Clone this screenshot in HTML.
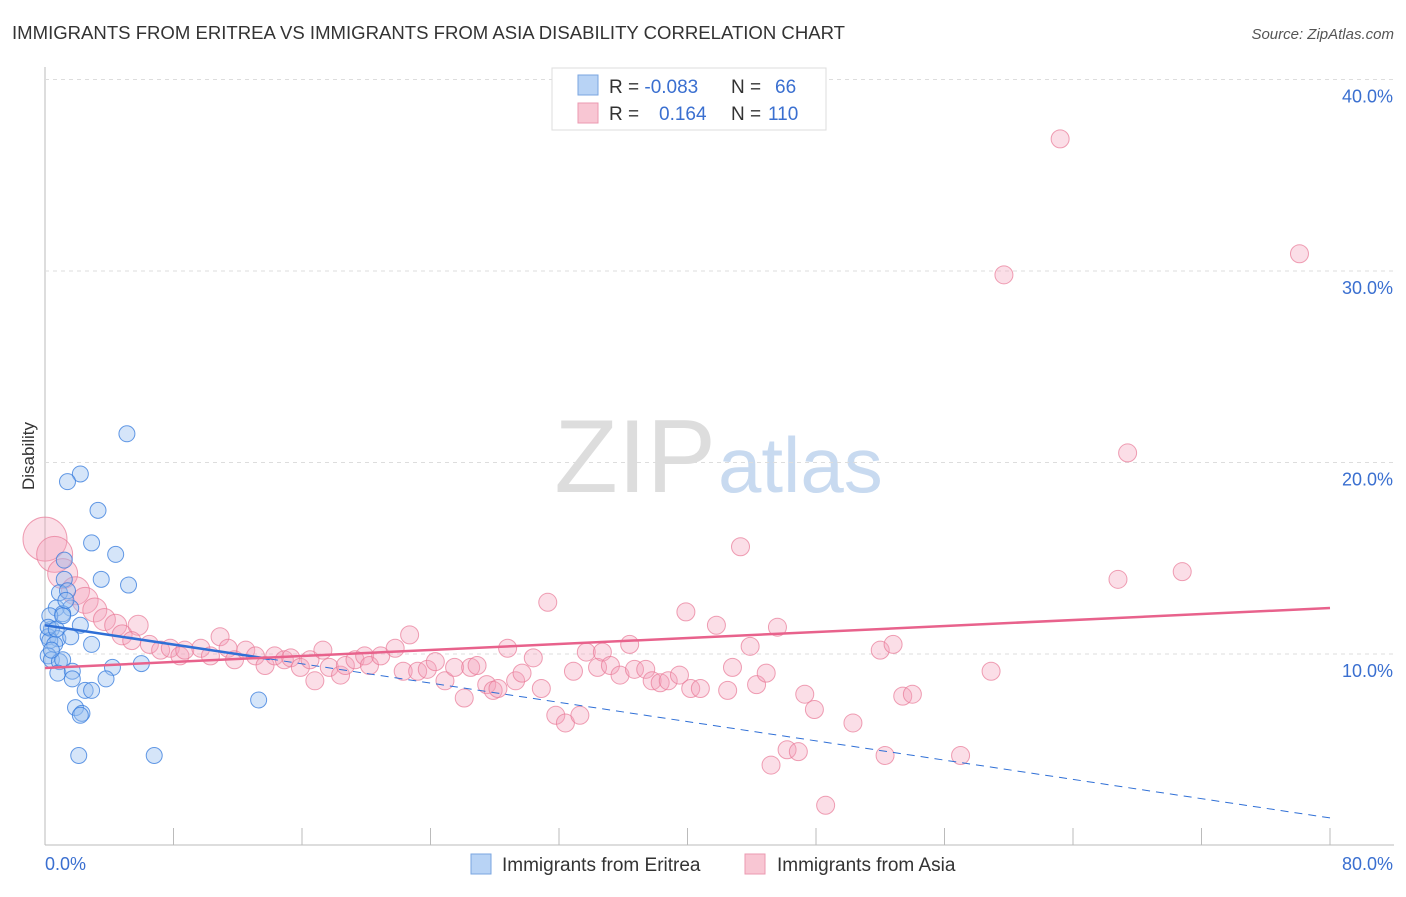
<!DOCTYPE html>
<html><head><meta charset="utf-8"><style>
body{margin:0;background:#fff;font-family:"Liberation Sans",sans-serif;}
svg text{font-family:"Liberation Sans",sans-serif;}
</style></head><body>
<svg id="c" width="1406" height="892">
<text x="12" y="39" font-size="18" textLength="833" lengthAdjust="spacingAndGlyphs" fill="#333">IMMIGRANTS FROM ERITREA VS IMMIGRANTS FROM ASIA DISABILITY CORRELATION CHART</text>
<text x="1394" y="39" font-size="15" fill="#555" font-style="italic" text-anchor="end">Source: ZipAtlas.com</text>
<text x="34" y="456" font-size="17" fill="#333" transform="rotate(-90 34 456)" text-anchor="middle">Disability</text>
<text x="716" y="492" font-size="104" fill="#ddd" text-anchor="end" font-family="Liberation Serif">ZIP</text>
<text x="718" y="492" font-size="78" fill="#c8daf0">atlas</text>
<g id="grid"></g><g id="pts"></g><g id="lines"></g>
<g>
<rect x="552" y="68" width="274" height="62" fill="#fff" stroke="#ddd"/>
<rect x="578" y="75" width="20" height="20" fill="#b8d3f5" stroke="#7aa6e0"/>
<rect x="578" y="103" width="20" height="20" fill="#f8c6d3" stroke="#eb9ab0"/>
<text x="609" y="93" font-size="19" fill="#333">R = <tspan fill="#3a6fd0">-0.083</tspan><tspan x="731">N = </tspan><tspan x="775" fill="#3a6fd0">66</tspan></text>
<text x="609" y="120" font-size="19" fill="#333">R = <tspan x="659" fill="#3a6fd0">0.164</tspan><tspan x="731">N = </tspan><tspan x="768" fill="#3a6fd0">110</tspan></text>
</g>
<g>
<rect x="471" y="854" width="20" height="20" fill="#b8d3f5" stroke="#7aa6e0"/>
<text x="502" y="871" font-size="19" fill="#333">Immigrants from Eritrea</text>
<rect x="745" y="854" width="20" height="20" fill="#f8c6d3" stroke="#eb9ab0"/>
<text x="777" y="871" font-size="19" fill="#333">Immigrants from Asia</text>
</g>
</svg>
<script>
const yTicks=[10,20,30,40];
const xTickLabels=["0.0%","80.0%"];
const blueX=[5.1,2.2,1.4,3.3,2.9,4.4,1.2,3.5,5.2,1.2,0.9,1.4,0.7,1.6,1.1,2.2,0.4,0.2,0.8,1.6,0.3,0.6,2.9,0.2,0.4,0.9,1.1,0.8,1.7,1.7,4.2,6.0,3.8,2.5,2.9,1.9,2.3,2.2,2.1,6.8,13.3,0.3,0.2,0.7,1.1,1.3,0.4];
const blueY=[21.5,19.4,19.0,17.5,15.8,15.2,14.9,13.9,13.6,13.9,13.2,13.3,12.4,12.4,12.1,11.5,11.3,10.9,10.8,10.9,10.7,10.5,10.5,9.9,9.7,9.6,9.7,9.0,9.1,8.7,9.3,9.5,8.7,8.1,8.1,7.2,6.9,6.8,4.7,4.7,7.6,12.0,11.4,11.3,12.0,12.8,10.2];
const pinkX=[0,0.6,1.1,1.9,2.5,3.1,3.7,4.4,4.8,5.8,5.4,6.5,7.2,7.8,8.4,8.7,9.7,10.3,10.9,11.4,11.8,12.5,13.1,13.7,14.3,14.9,15.3,15.9,16.5,16.8,17.3,17.7,18.4,18.7,19.3,19.9,20.2,20.9,21.8,22.3,22.7,23.2,23.8,24.3,24.9,25.5,26.1,26.5,26.9,27.5,27.9,28.2,28.8,29.3,29.7,30.4,30.9,31.3,31.8,32.4,32.9,33.3,33.7,34.4,34.7,35.2,35.8,36.4,36.7,37.4,37.8,38.3,38.8,39.5,39.9,40.2,40.8,41.8,42.5,42.8,43.3,43.9,44.3,44.9,45.2,45.6,46.2,46.9,47.3,47.9,48.6,50.3,52.0,52.3,52.8,53.4,54.0,57.0,58.9,59.7,63.2,66.8,67.4,70.8,78.1];
const pinkY=[16.0,15.2,14.2,13.3,12.8,12.3,11.8,11.5,11.0,11.5,10.7,10.5,10.2,10.3,9.9,10.2,10.3,9.9,10.9,10.3,9.7,10.2,9.9,9.4,9.9,9.7,9.8,9.3,9.7,8.6,10.2,9.3,8.9,9.4,9.7,9.9,9.4,9.9,10.3,9.1,11.0,9.1,9.2,9.6,8.6,9.3,7.7,9.3,9.4,8.4,8.1,8.2,10.3,8.6,9.0,9.8,8.2,12.7,6.8,6.4,9.1,6.8,10.1,9.3,10.1,9.4,8.9,10.5,9.2,9.2,8.6,8.5,8.6,8.9,12.2,8.2,8.2,11.5,8.1,9.3,15.6,10.4,8.4,9.0,4.2,11.4,5.0,4.9,7.9,7.1,2.1,6.4,10.2,4.7,10.5,7.8,7.9,4.7,9.1,29.8,36.9,13.9,20.5,14.3,30.9];
const pinkR=[22,18,15,14,13,12,11,11,10,10];
const blueTrend=[11.5,1.44], pinkTrend=[9.27,12.40], xMax=80;
const X=v=>45+v*(1285/80), Y=v=>654-(v-10)*19.15;
const NS="http://www.w3.org/2000/svg";
function mk(t,a,p){const e=document.createElementNS(NS,t);for(const k in a)e.setAttribute(k,a[k]);p.appendChild(e);return e;}
const grid=document.getElementById('grid'),pts=document.getElementById('pts'),lines=document.getElementById('lines');
const ax=mk('line',{x1:45,y1:67,x2:45,y2:845,stroke:'#bbb'},grid);


const bx=mk('line',{x1:45,y1:845,x2:1394,y2:845,stroke:'#bbb'},grid);


yTicks.forEach(v=>{
 const g=mk('line',{x1:45,y1:Y(v),x2:1394,y2:Y(v),stroke:'#ddd','stroke-dasharray':'4,4'},grid);
 
 
 const t=mk('text',{x:1393,y:Y(v)+23,'font-size':18,fill:'#3a6fd0','text-anchor':'end'},grid);t.textContent=v.toFixed(1)+'%';
 
 
});
for(let i=0;i<=10;i++){const tk=mk('line',{x1:X(i*8),y1:828,x2:X(i*8),y2:845,stroke:'#bbb'},grid);
 
 }
const t0=mk('text',{x:45,y:870,'font-size':18,fill:'#3a6fd0'},grid);t0.textContent=xTickLabels[0];


const t1=mk('text',{x:1393,y:870,'font-size':18,fill:'#3a6fd0','text-anchor':'end'},grid);t1.textContent=xTickLabels[1];


pinkX.forEach((v,i)=>{const c=mk('circle',{cx:X(v),cy:Y(pinkY[i]),r:pinkR[i]||9,fill:'rgba(244,160,185,0.35)',stroke:'rgba(232,120,150,0.7)','stroke-width':1},pts);
 
 });
blueX.forEach((v,i)=>{const c=mk('circle',{cx:X(v),cy:Y(blueY[i]),r:8,fill:'rgba(150,190,240,0.4)',stroke:'rgba(50,120,220,0.75)','stroke-width':1},pts);
 
 });
const bt=v=>blueTrend[0]+(blueTrend[1]-blueTrend[0])*v/xMax;
const l1=mk('line',{x1:X(0),y1:Y(bt(0)),x2:X(14),y2:Y(bt(14)),stroke:'#2f6fd6','stroke-width':2.5},lines);


const l2=mk('line',{x1:X(14),y1:Y(bt(14)),x2:X(80),y2:Y(bt(80)),stroke:'#2f6fd6','stroke-width':1,'stroke-dasharray':'8,6'},lines);


const l3=mk('line',{x1:X(0),y1:Y(pinkTrend[0]),x2:X(80),y2:Y(pinkTrend[1]),stroke:'#e8628c','stroke-width':2.5},lines);


</script>
</body></html>
